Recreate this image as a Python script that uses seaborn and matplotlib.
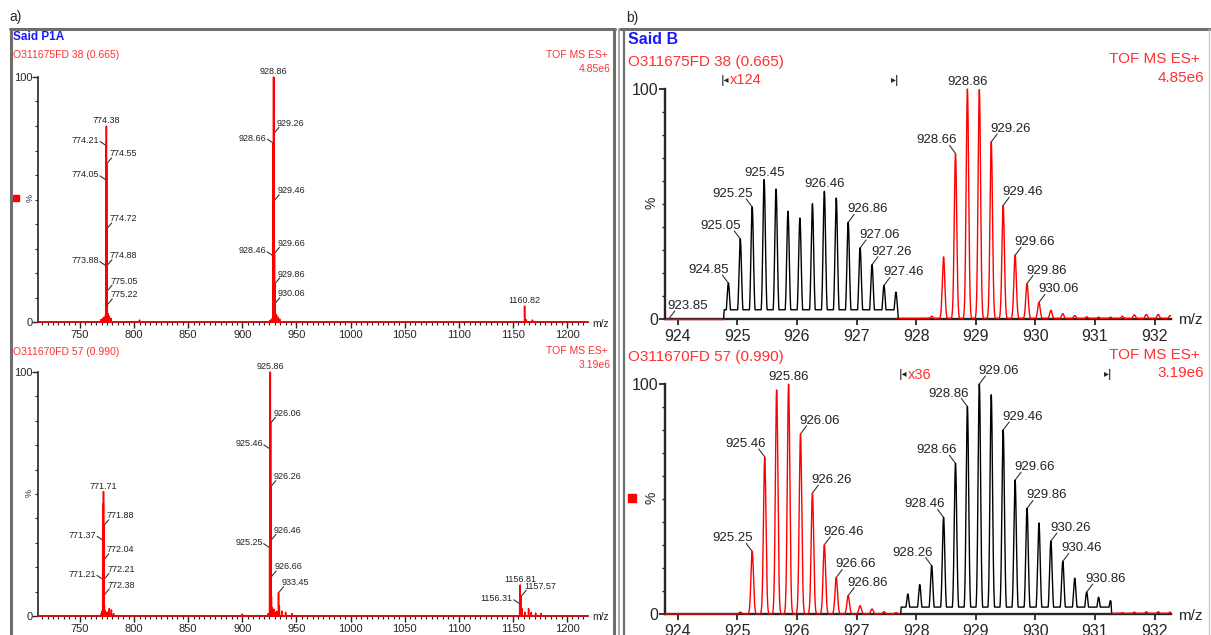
import numpy as np
import pandas as pd
import seaborn as sns
import matplotlib.pyplot as plt
from matplotlib.lines import Line2D
from matplotlib.patches import Rectangle

W, H = 1211, 635

# a) espectro completo - O311675FD 38
top_mz = [769.5, 771.0, 772.3, 773.7, 773.88, 774.05, 774.21, 774.38, 774.55,
          774.72, 774.88, 775.05, 775.22, 775.6, 776.8, 778.5, 805.0, 926.8,
          927.8, 928.46, 928.66, 928.86, 929.06, 929.26, 929.46, 929.66, 929.86,
          930.06, 930.26, 930.46, 931.5, 933.0, 934.5, 1160.82, 1162.0, 1168.0]
top_int = [1.0, 1.5, 2.0, 3.0, 23, 58, 72, 80, 64.5,
           38, 23, 12.6, 7, 3.5, 2.5, 1.5, 0.8, 1.0,
           1.5, 27, 73, 100, 99.7, 77, 49.5, 28, 15.5,
           7.5, 3.8, 2.3, 3.0, 2.0, 1.2, 6.5, 1.0, 0.8]

# a) espectro completo - O311670FD 57
bot_mz = [769.8, 770.5, 771.04, 771.21, 771.37, 771.54, 771.71, 771.88, 772.04,
          772.21, 772.38, 772.55, 773.5, 775.0, 777.0, 779.0, 781.0, 900.0,
          924.0, 925.05, 925.25, 925.46, 925.66, 925.86, 926.06, 926.26, 926.46,
          926.66, 926.86, 927.06, 927.26, 931.6, 933.45, 934.2, 936.6, 940.0,
          946.0, 1156.31, 1156.81, 1157.57, 1158.3, 1161.0, 1164.5, 1167.0,
          1171.0, 1176.0]
bot_int = [1.2, 2.0, 6, 15, 31, 46, 51, 37, 23,
           15, 8.6, 4, 2, 1.5, 3.0, 2.5, 1.0, 0.8,
           1.0, 1, 28, 68.5, 97.5, 100, 79, 53, 31,
           16, 8, 3.6, 2.2, 2.0, 9.5, 4.0, 2.0, 1.5,
           1.0, 5, 12.7, 8, 3, 1.5, 3.0, 1.5,
           1.2, 1.0]

# b) zoom superior: picos vermelhos e trecho ampliado x124 (preto)
tz_red_mz = [928.26, 928.46, 928.66, 928.86, 929.06, 929.26, 929.46, 929.66,
             929.86, 930.06, 930.26, 930.46, 930.66, 930.86, 931.06, 931.26,
             931.46, 931.66, 931.86, 932.06, 932.26]
tz_red_int = [1.2, 27, 72, 100, 99.7, 77, 49.4, 27.7,
              15.4, 7.2, 3.8, 2.3, 1.5, 1.0, 0.8, 0.8,
              1.2, 1.8, 2.0, 2.0, 1.5]
tz_blk_mz = [924.85, 925.05, 925.25, 925.45, 925.65, 925.85, 926.05, 926.26,
             926.46, 926.66, 926.86, 927.06, 927.26, 927.46, 927.66]
tz_blk_int = [15.6, 34.8, 48.7, 60.6, 56.5, 46.8, 43.9, 50.1,
              55.5, 52.6, 42.0, 30.9, 23.6, 14.6, 11.7]

# b) zoom inferior: picos vermelhos e trecho ampliado x36 (preto)
bz_red_mz = [925.05, 925.25, 925.46, 925.66, 925.86, 926.06, 926.26, 926.46,
             926.66, 926.86, 927.06, 927.26, 927.46, 927.66, 931.46, 931.66,
             931.86, 932.06, 932.26]
bz_red_int = [0.8, 27.2, 68.3, 97.5, 100, 78.3, 52.6, 30.1,
              15.9, 8.0, 3.6, 2.2, 1.0, 0.6, 0.6, 0.8,
              1.0, 1.0, 0.8]
bz_blk_mz = [927.86, 928.06, 928.26, 928.46, 928.66, 928.86, 929.06, 929.26,
             929.46, 929.66, 929.86, 930.06, 930.26, 930.46, 930.66, 930.86,
             931.06, 931.26]
bz_blk_int = [8.7, 12.8, 21, 42, 65.5, 90.2, 100, 95.3,
              80, 58.2, 45.9, 39.6, 31.7, 22.9, 15.6, 9.5,
              7.3, 5.8]

# rotulos (m/z, lado do texto)
top_labels = [(773.88, "l"), (774.05, "l"), (774.21, "l"), (774.38, "c"),
              (774.55, "r"), (774.72, "r"), (774.88, "r"), (775.05, "r"),
              (775.22, "r"), (928.46, "l"), (928.66, "l"), (928.86, "c"),
              (929.26, "r"), (929.46, "r"), (929.66, "r"), (929.86, "r"),
              (930.06, "r"), (1160.82, "c")]
bot_labels = [(771.21, "l"), (771.37, "l"), (771.71, "c"), (771.88, "r"),
              (772.04, "r"), (772.21, "r"), (772.38, "r"), (925.25, "l"),
              (925.46, "l"), (925.86, "c"), (926.06, "r"), (926.26, "r"),
              (926.46, "r"), (926.66, "r"), (933.45, "r"), (1156.31, "l"),
              (1156.81, "c"), (1157.57, "r")]
tz_labels_red = [(928.66, "l"), (928.86, "c"), (929.26, "r"), (929.46, "r"),
                 (929.66, "r"), (929.86, "r"), (930.06, "r")]
tz_labels_blk = [(924.85, "l"), (925.05, "l"), (925.25, "l"), (925.45, "c"),
                 (926.46, "c"), (926.86, "r"), (927.06, "r"), (927.26, "r"),
                 (927.46, "r")]
bz_labels_red = [(925.25, "l"), (925.46, "l"), (925.86, "c"), (926.06, "r"),
                 (926.26, "r"), (926.46, "r"), (926.66, "r"), (926.86, "r")]
bz_labels_blk = [(928.26, "l"), (928.46, "l"), (928.66, "l"), (928.86, "l"),
                 (929.06, "r"), (929.46, "r"), (929.66, "r"), (929.86, "r"),
                 (930.26, "r"), (930.46, "r"), (930.86, "r")]

RED = "#ff0000"
TXT_RED = "#ff3030"
BLUE = "#1a1aff"

sns.set_style("ticks")
plt.rcParams["font.family"] = ["Liberation Sans", "DejaVu Sans"]

fig = plt.figure(figsize=(W / 100, H / 100), dpi=100)


def fx(x):
    return x / W


def fy(y):
    return 1 - y / H


def eixo(x0, x1, y0, y100, xlim):
    ax = fig.add_axes([fx(x0), fy(y0), (x1 - x0) / W, (y0 - y100) / H])
    ax.set_xlim(xlim)
    ax.set_ylim(0, 100)
    ax.set_facecolor("none")
    for s in ["top", "right"]:
        ax.spines[s].set_visible(False)
    return ax


def perfil(grade, mz, inten, sigma, base=0.0):
    y = np.full_like(grade, base)
    for c, h in zip(mz, inten):
        y = np.maximum(y, h * np.exp(-0.5 * ((grade - c) / sigma) ** 2))
    return y


def desenha(ax, x, y, cor, lw):
    df = pd.DataFrame({"mz": x, "int": y})
    sns.lineplot(data=df, x="mz", y="int", color=cor, lw=lw, ax=ax,
                 estimator=None, sort=False, clip_on=False, zorder=5)
    ax.set_xlabel("")
    ax.set_ylabel("")


def rotulo(ax, x, h, lado, fs, pequeno):
    if pequeno:
        off = {"l": ((-6, 4), (-7, 5), "right", "center"),
               "r": ((5, 6), (3, 10), "left", "center"),
               "c": (None, (0, 3), "center", "baseline")}
    else:
        off = {"l": ((-6, 8), (1, 10), "right", "baseline"),
               "r": ((6, 8), (-1, 10), "left", "baseline"),
               "c": (None, (0, 4), "center", "baseline")}
    lin, txt, ha, va = off[lado]
    if lin is not None:
        ax.annotate("", xy=(x, h), xytext=lin, textcoords="offset pixels",
                    arrowprops=dict(arrowstyle="-", color="#333333", lw=0.8,
                                    shrinkA=0, shrinkB=0),
                    annotation_clip=False)
    ax.annotate(f"{x:.2f}", xy=(x, h), xytext=txt, textcoords="offset pixels",
                ha=ha, va=va, fontsize=fs, color="#222222",
                annotation_clip=False)


# ---------------- a) espectros completos ----------------
xlim_a = (711.2, 1219.4)
grade_a = np.arange(xlim_a[0], xlim_a[1], 0.01)

top_all_mz = top_mz + tz_blk_mz
top_all_int = top_int + [v / 124 for v in tz_blk_int]
bot_all_mz = bot_mz + bz_blk_mz
bot_all_int = bot_int + [v / 36 for v in bz_blk_int]

paineis_a = [
    (322, 77, top_all_mz, top_all_int, top_labels, dict(zip(top_mz, top_int))),
    (616, 372, bot_all_mz, bot_all_int, bot_labels, dict(zip(bot_mz, bot_int))),
]
for y0, y100, mz, inten, labs, alturas in paineis_a:
    ax = eixo(38, 588, y0, y100, xlim_a)
    desenha(ax, grade_a, perfil(grade_a, mz, inten, 0.04), RED, 1.1)
    ax.set_xticks(range(750, 1201, 50))
    ax.set_xticks(np.arange(715, 1220, 5), minor=True)
    ax.set_yticks([0, 100])
    ax.set_yticks(range(0, 101, 10), minor=True)
    ax.tick_params(which="major", length=4, width=1, pad=1.5, labelsize=8)
    ax.tick_params(which="minor", length=2.5, width=0.8)
    ax.tick_params(axis="y", pad=0)
    for s in ["left", "bottom"]:
        ax.spines[s].set_linewidth(1.2)
    for x, lado in labs:
        rotulo(ax, x, alturas[x], lado, 6.5, True)

# ---------------- b) zoom ----------------
xlim_b = (923.787, 932.27)
sig_b = 0.021
paineis_b = [
    (319, 89, 924.77, 927.70, 4.0,
     tz_red_mz, tz_red_int, tz_blk_mz, tz_blk_int, tz_labels_red, tz_labels_blk),
    (614, 384, 927.74, 931.28, 3.0,
     bz_red_mz, bz_red_int, bz_blk_mz, bz_blk_int, bz_labels_red, bz_labels_blk),
]
for (y0, y100, z0, z1, base, rmz, rint, bmz, bint,
     lab_r, lab_b) in paineis_b:
    ax = eixo(665, 1170.7, y0, y100, xlim_b)
    g1 = np.arange(xlim_b[0], z0, 0.002)
    g2 = np.arange(z0 + 0.01, z1 - 0.01, 0.002)
    g3 = np.arange(z1, xlim_b[1], 0.002)
    desenha(ax, g1, perfil(g1, rmz, rint, sig_b), RED, 1.0)
    yb = perfil(g2, bmz, bint, sig_b, base)
    desenha(ax, np.r_[z0, g2, z1], np.r_[0, yb, 0], "black", 1.0)
    desenha(ax, g3, perfil(g3, rmz, rint, sig_b, 0.3), RED, 1.0)
    ax.set_xticks(range(924, 933))
    ax.set_yticks([0, 100])
    ax.set_yticks(range(0, 101, 10), minor=True)
    ax.tick_params(which="major", length=4, width=1.3, labelsize=11.5)
    ax.tick_params(axis="x", pad=3)
    ax.tick_params(axis="y", pad=0.5)
    ax.tick_params(which="minor", length=2.5, width=1)
    for s in ["left", "bottom"]:
        ax.spines[s].set_linewidth(1.7)
    ar = dict(zip(rmz, rint))
    ab = dict(zip(bmz, bint))
    for x, lado in lab_r:
        rotulo(ax, x, ar[x], lado, 9.5, False)
    for x, lado in lab_b:
        rotulo(ax, x, ab[x], lado, 9.5, False)
    if y0 < 400:
        rotulo(ax, 923.85, 0, "r", 9.5, False)

# ---------------- textos e molduras ----------------
t = dict(va="center")
fig.text(fx(16), fy(17), "a)", fontsize=10, ha="center", **t)
fig.text(fx(632), fy(18), "b)", fontsize=10, ha="center", **t)

fig.text(fx(13), fy(37.5), "Said P1A", color=BLUE, fontsize=8.5, weight="bold", **t)
fig.text(fx(13), fy(55), "O311675FD 38 (0.665)", color=TXT_RED, fontsize=7.5, **t)
fig.text(fx(608), fy(55), "TOF MS ES+", color=TXT_RED, fontsize=7.5, ha="right", **t)
fig.text(fx(611), fy(69), "4.85e6", color=TXT_RED, fontsize=7.5, ha="right", **t)
fig.text(fx(13), fy(352), "O311670FD 57 (0.990)", color=TXT_RED, fontsize=7.5, **t)
fig.text(fx(608), fy(351), "TOF MS ES+", color=TXT_RED, fontsize=7.5, ha="right", **t)
fig.text(fx(611), fy(365), "3.19e6", color=TXT_RED, fontsize=7.5, ha="right", **t)
fig.text(fx(30), fy(198), "%", fontsize=6.5, rotation=90, ha="center", **t)
fig.text(fx(29), fy(493), "%", fontsize=6.5, rotation=90, ha="center", **t)
fig.text(fx(601), fy(324), "m/z", fontsize=7.5, ha="center", **t)
fig.text(fx(601), fy(617), "m/z", fontsize=7.5, ha="center", **t)

fig.text(fx(628), fy(40), "Said B", color=BLUE, fontsize=11.5, weight="bold", **t)
fig.text(fx(628), fy(62), "O311675FD 38 (0.665)", color=TXT_RED, fontsize=11, **t)
fig.text(fx(1200), fy(59), "TOF MS ES+", color=TXT_RED, fontsize=11, ha="right", **t)
fig.text(fx(1204), fy(78), "4.85e6", color=TXT_RED, fontsize=11, ha="right", **t)
fig.text(fx(628), fy(357), "O311670FD 57 (0.990)", color=TXT_RED, fontsize=11, **t)
fig.text(fx(1200), fy(355), "TOF MS ES+", color=TXT_RED, fontsize=11, ha="right", **t)
fig.text(fx(1204), fy(373), "3.19e6", color=TXT_RED, fontsize=11, ha="right", **t)
fig.text(fx(652), fy(203), "%", fontsize=10, rotation=90, ha="center", **t)
fig.text(fx(652), fy(498), "%", fontsize=10, rotation=90, ha="center", **t)
fig.text(fx(1190), fy(320), "m/z", fontsize=11, ha="center", **t)
fig.text(fx(1190), fy(616), "m/z", fontsize=11, ha="center", **t)

# marcadores de ampliacao
for xm, ym, fator, xe in [(725, 80, "x124", 895), (903, 375, "x36", 1108)]:
    fig.text(fx(xm), fy(ym), "|\u25C2", fontsize=7, ha="center",
             family="DejaVu Sans", weight="bold", **t)
    fig.text(fx(xm + 5), fy(ym), fator, color=TXT_RED, fontsize=10.5, **t)
    fig.text(fx(xe), fy(ym), "\u25B8|", fontsize=7, ha="center",
             family="DejaVu Sans", weight="bold", **t)

fig.add_artist(Rectangle((fx(13), fy(201)), 6 / W, 6 / H, color=RED))
fig.add_artist(Rectangle((fx(628), fy(502)), 8 / W, 8 / H, color=RED))

molduras = [((10, 615), (29, 29), "#6e6e6e", 2.2),
            ((11, 11), (29, 635), "#6e6e6e", 2.2),
            ((614, 614), (29, 635), "#6e6e6e", 2.2),
            ((620, 1211), (29, 29), "#6e6e6e", 2.2),
            ((619, 619), (29, 635), "#9a9a9a", 1.2),
            ((624, 624), (29, 635), "#6e6e6e", 1.6),
            ((1209, 1209), (29, 635), "#c8c8c8", 1.0)]
for xs, ys, cor, lw in molduras:
    fig.add_artist(Line2D([fx(v) for v in xs], [fy(v) for v in ys],
                          color=cor, lw=lw))

fig.savefig("out.png", dpi=100)
